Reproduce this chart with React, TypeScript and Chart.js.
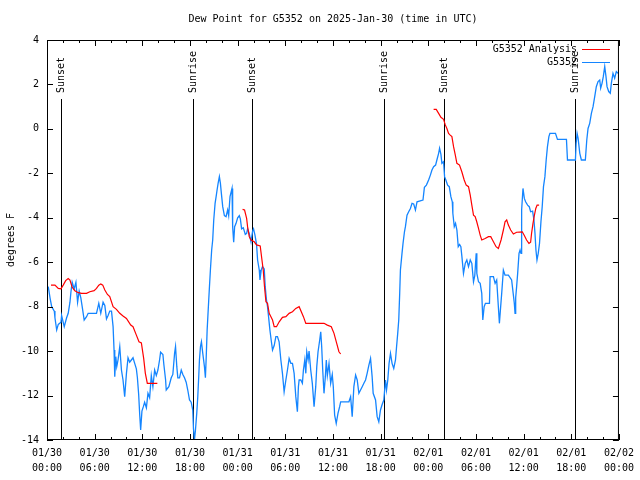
import React, { useEffect, useRef } from "react";
import { Chart, registerables } from "chart.js";

Chart.register(...registerables);

const chartTitle = "Dew Point for G5352 on 2025-Jan-30 (time in UTC)";
const yTitle = "degrees F";

// x tick labels (every 6 hours from 01/30 00:00 UTC)
const xDates = ["01/30", "01/30", "01/30", "01/30", "01/31", "01/31", "01/31", "01/31", "02/01", "02/01", "02/01", "02/01", "02/02"];
const xTimes = ["00:00", "06:00", "12:00", "18:00", "00:00", "06:00", "12:00", "18:00", "00:00", "06:00", "12:00", "18:00", "00:00"];

// sunrise / sunset events (hours since 01/30 00:00)
const eventHours = [1.76, 18.44, 25.84, 42.4, 49.92, 66.48];
const eventLabels = ["Sunset", "Sunrise", "Sunset", "Sunrise", "Sunset", "Sunrise"];

// G5352 station observations (hours, deg F)
const stationHours = [
  0.16, 0.38, 0.59, 0.92, 1.0, 1.22, 1.42, 1.76, 1.84, 2.17, 2.47, 2.67, 2.89, 3.01, 3.17, 3.42, 3.64, 3.85, 4.05, 4.26,
  4.43, 4.68, 4.98, 5.18, 6.23, 6.52, 6.77, 7.06, 7.28, 7.49, 7.69, 7.9, 8.12, 8.32, 8.44, 8.53, 8.66, 8.78, 8.94, 9.16,
  9.37, 9.57, 9.78, 10.0, 10.2, 10.41, 10.62, 10.83, 11.04, 11.25, 11.38, 11.54, 11.67, 11.79, 11.95, 12.13, 12.29, 12.51, 12.71, 12.92,
  13.13, 13.33, 13.55, 13.76, 13.96, 14.17, 14.3, 14.59, 14.71, 14.93, 15.01, 15.34, 15.64, 15.84, 16.06, 16.18, 16.34, 16.47, 16.68, 16.9,
  17.1, 17.31, 17.52, 17.72, 17.94, 18.15, 18.35, 18.44, 18.56, 18.69, 18.85, 18.98, 19.1, 19.19, 19.32, 19.44, 19.61, 19.82, 19.94, 20.03,
  20.16, 20.36, 20.45, 20.57, 20.73, 20.86, 20.99, 21.16, 21.29, 21.41, 21.54, 21.7, 21.83, 21.95, 22.12, 22.33, 22.54, 22.74, 22.87, 23.04,
  23.29, 23.37, 23.5, 23.62, 23.8, 24.0, 24.21, 24.34, 24.5, 24.71, 24.84, 24.96, 25.13, 25.25, 25.46, 25.68, 25.88, 26.0, 26.18, 26.38,
  26.51, 26.72, 26.81, 26.97, 27.13, 27.35, 27.47, 27.63, 27.76, 27.89, 28.06, 28.22, 28.39, 28.6, 28.81, 29.01, 29.22, 29.44, 29.64, 29.85,
  30.07, 30.27, 30.48, 30.7, 30.9, 31.11, 31.32, 31.52, 31.65, 31.74, 31.95, 32.15, 32.28, 32.45, 32.58, 32.7, 32.87, 32.99, 33.2, 33.4,
  33.62, 33.83, 33.96, 34.12, 34.33, 34.46, 34.58, 34.71, 34.87, 35.04, 35.16, 35.29, 35.5, 35.71, 35.91, 36.04, 36.21, 36.41, 36.63, 36.84,
  36.97, 38.01, 38.22, 38.42, 38.63, 38.85, 39.05, 39.26, 39.47, 39.68, 39.89, 40.1, 40.3, 40.52, 40.73, 40.93, 41.06, 41.36, 41.56, 41.77,
  41.98, 42.19, 42.4, 42.61, 42.74, 42.9, 43.06, 43.24, 43.44, 43.65, 43.87, 43.99, 44.15, 44.28, 44.4, 44.49, 44.69, 44.82, 45.0, 45.12,
  45.32, 45.53, 45.75, 45.95, 46.16, 46.38, 46.58, 47.33, 47.51, 47.76, 48.04, 48.26, 48.46, 48.67, 48.92, 49.08, 49.3, 49.42, 49.59, 49.71,
  49.92, 50.05, 50.21, 50.43, 50.64, 50.84, 51.02, 51.09, 51.27, 51.43, 51.6, 51.77, 51.94, 52.1, 52.23, 52.43, 52.65, 52.85, 53.06, 53.28,
  53.48, 53.69, 53.85, 54.03, 54.11, 54.32, 54.53, 54.73, 54.86, 55.03, 55.19, 55.7, 55.78, 56.2, 56.41, 56.61, 56.82, 56.95, 57.11, 57.24,
  57.45, 57.66, 58.08, 58.49, 58.83, 58.92, 59.0, 59.12, 59.25, 59.42, 59.55, 59.67, 59.75, 59.92, 60.09, 60.25, 60.5, 60.71, 60.88, 61.13,
  61.3, 61.43, 61.55, 61.68, 61.84, 62.0, 62.18, 62.34, 62.5, 62.68, 62.84, 63.0, 63.18, 63.31, 64.01, 64.26, 65.39, 65.52, 66.52, 66.61,
  66.73, 66.86, 67.07, 67.27, 67.77, 67.95, 68.11, 68.32, 68.53, 68.74, 68.95, 69.15, 69.37, 69.58, 69.7, 69.87, 70.03, 70.21, 70.37, 70.5,
  70.71, 70.91, 71.04, 71.25, 71.46, 71.67, 71.88,
];
const stationValues = [
  -7.1, -7.6, -8.0, -8.2, -8.5, -9.05, -8.8, -8.7, -8.4, -8.9, -8.5, -8.3, -7.8, -7.35, -6.9, -7.2, -6.9, -7.8, -7.3, -7.6,
  -8.0, -8.6, -8.45, -8.3, -8.3, -7.85, -8.3, -7.8, -7.95, -8.55, -8.4, -8.2, -8.2, -8.9, -9.95, -11.15, -10.25, -10.7, -10.4, -9.8,
  -10.85, -11.3, -12.05, -11.0, -10.3, -10.5, -10.4, -10.3, -10.55, -10.8, -11.2, -11.95, -12.85, -13.55, -12.7, -12.5, -12.3, -12.55, -11.9, -12.1,
  -11.1, -11.6, -10.85, -11.1, -10.85, -10.4, -10.05, -10.15, -10.6, -11.3, -11.75, -11.6, -11.2, -11.05, -10.1, -9.8, -10.7, -11.2, -11.2, -10.85,
  -11.05, -11.2, -11.4, -11.75, -12.2, -12.3, -12.65, -13.5, -14.0, -13.55, -12.8, -12.05, -11.15, -10.4, -9.8, -9.58, -10.1, -10.7, -11.2, -10.4,
  -9.05, -7.7, -7.1, -6.35, -5.45, -5.0, -4.1, -3.35, -3.05, -2.75, -2.45, -2.15, -2.45, -2.9, -3.5, -3.9, -3.95, -3.65, -3.9, -3.05,
  -2.68, -4.4, -5.1, -4.4, -4.25, -4.0, -3.9, -4.05, -4.5, -4.45, -4.6, -4.75, -4.7, -4.5, -4.7, -5.08, -4.6, -4.5, -4.78, -5.2,
  -5.9, -6.35, -6.8, -6.35, -6.2, -6.3, -7.1, -7.7, -8.0, -8.45, -9.05, -9.5, -9.95, -9.75, -9.35, -9.35, -9.58, -10.4, -11.0, -11.83,
  -11.3, -10.85, -10.33, -10.55, -10.55, -11.0, -12.05, -12.73, -11.6, -11.3, -11.3, -11.45, -10.85, -10.4, -11.0, -10.03, -10.4, -10.0, -10.85, -11.45,
  -12.5, -11.6, -10.7, -10.03, -9.5, -9.13, -9.8, -10.85, -11.9, -11.15, -10.4, -11.1, -10.55, -11.45, -11.05, -11.6, -12.88, -13.25, -12.8, -12.5,
  -12.28, -12.28, -12.05, -12.95, -11.6, -11.08, -11.3, -11.9, -11.75, -11.6, -11.45, -11.3, -11.0, -10.63, -10.33, -11.15, -11.9, -12.2, -12.95, -13.18,
  -12.65, -12.4, -12.2, -11.3, -11.75, -11.3, -10.55, -10.1, -10.55, -10.78, -10.4, -9.87, -9.2, -8.6, -7.4, -6.35, -5.6, -5.15, -4.63, -4.4,
  -3.88, -3.73, -3.58, -3.35, -3.38, -3.65, -3.28, -3.2, -2.63, -2.53, -2.3, -2.08, -1.85, -1.7, -1.63, -1.4, -1.1, -0.87, -1.15, -1.55,
  -1.48, -2.15, -2.3, -2.53, -2.6, -3.05, -3.28, -3.8, -4.4, -4.25, -4.55, -5.3, -5.2, -5.3, -5.75, -6.5, -6.05, -5.9, -6.2, -5.9,
  -6.05, -6.88, -6.6, -5.6, -6.5, -6.88, -6.95, -7.4, -8.6, -8.0, -7.85, -7.85, -6.65, -6.65, -6.95, -6.8, -8.0, -8.75, -8.0, -7.4,
  -6.35, -6.58, -6.58, -6.8, -7.85, -8.3, -7.6, -7.1, -6.5, -5.6, -5.45, -5.6, -3.65, -2.68, -3.13, -3.28, -3.43, -3.5, -3.73, -3.7,
  -4.1, -4.7, -5.45, -5.9, -5.6, -5.15, -4.18, -3.5, -2.6, -2.15, -1.4, -0.8, -0.35, -0.2, -0.2, -0.47, -0.47, -1.4, -1.4, -0.65,
  -0.2, -0.43, -1.1, -1.4, -1.4, -0.5, 0.02, 0.25, 0.7, 1.0, 1.45, 1.9, 2.13, 2.2, 1.83, 2.05, 2.35, 2.8, 2.35, 1.9,
  1.68, 1.6, 2.05, 2.5, 2.28, 2.58, 2.5,
];

// G5352 Analysis (three separate runs, hours, deg F)
const analysisHours1 = [0.5, 1.0, 1.42, 1.76, 2.04, 2.35, 2.67, 2.89, 3.17, 3.51, 3.93, 4.35, 4.98, 5.39, 5.93, 6.23, 6.52, 6.77, 7.02, 7.28, 7.61, 7.9, 8.32, 8.74, 9.16, 9.57, 10.0, 10.54, 10.83, 11.25, 11.58, 11.88, 12.17, 12.38, 12.63, 13.89];
const analysisValues1 = [-7.03, -7.03, -7.18, -7.2, -7.03, -6.83, -6.73, -6.8, -7.13, -7.28, -7.37, -7.4, -7.4, -7.33, -7.28, -7.18, -7.03, -6.98, -7.03, -7.25, -7.45, -7.55, -8.0, -8.12, -8.3, -8.42, -8.53, -8.83, -8.9, -9.28, -9.58, -9.63, -10.33, -11.0, -11.45, -11.45];
const analysisHours2 = [24.62, 24.87, 25.13, 25.25, 25.46, 25.68, 26.09, 26.38, 26.84, 27.06, 27.22, 27.38, 27.56, 27.76, 27.97, 28.19, 28.39, 28.6, 28.89, 29.23, 29.64, 30.07, 30.48, 30.9, 31.32, 31.74, 32.28, 32.58, 33.2, 34.87, 35.29, 35.79, 36.13, 36.47, 36.75, 36.97];
const analysisValues2 = [-3.62, -3.65, -4.03, -4.4, -4.85, -5.0, -5.08, -5.22, -5.27, -5.9, -6.35, -7.1, -7.78, -7.85, -8.3, -8.45, -8.6, -8.9, -8.9, -8.68, -8.48, -8.45, -8.3, -8.23, -8.08, -8.0, -8.45, -8.75, -8.75, -8.75, -8.83, -8.9, -9.2, -9.65, -10.03, -10.13];
const analysisHours3 = [48.67, 49.0, 49.3, 49.59, 49.92, 50.14, 50.34, 50.55, 50.76, 50.97, 51.18, 51.4, 51.6, 51.93, 52.22, 52.52, 52.77, 53.06, 53.28, 53.48, 53.69, 53.9, 54.1, 54.32, 54.53, 54.73, 55.15, 55.57, 55.86, 56.2, 56.53, 56.82, 57.16, 57.45, 57.66, 57.87, 58.08, 58.37, 58.71, 59.12, 59.83, 60.09, 60.37, 60.67, 60.88, 61.0, 61.18, 61.36, 61.53, 61.7, 61.95];
const analysisValues3 = [0.88, 0.88, 0.7, 0.52, 0.43, 0.18, 0.02, -0.2, -0.28, -0.35, -0.8, -1.18, -1.55, -1.63, -1.93, -2.3, -2.53, -2.6, -2.98, -3.43, -3.88, -3.95, -4.18, -4.48, -4.78, -5.0, -4.93, -4.85, -4.85, -5.08, -5.3, -5.38, -5.0, -4.55, -4.18, -4.1, -4.33, -4.55, -4.73, -4.65, -4.63, -4.8, -5.0, -5.15, -5.1, -4.7, -4.25, -3.88, -3.58, -3.43, -3.43];

const RED = "#ff0000";
const BLUE = "#1485ff";
const FONT = "DejaVu Sans Mono";

function pairs(xs: number[], ys: number[]) {
  return xs.map((x, i) => ({ x, y: ys[i] as number | null }));
}

const overlayPlugin = {
  id: "gnuplotOverlay",
  beforeDatasetsDraw(chart: any) {
    const { ctx, chartArea: a, scales } = chart;
    const xs = scales.x;
    ctx.save();
    // sunrise / sunset lines
    ctx.strokeStyle = "#000";
    ctx.lineWidth = 1;
    ctx.font = `10px ${FONT}`;
    ctx.fillStyle = "#000";
    eventHours.forEach((h, i) => {
      const px = Math.round(xs.getPixelForValue(h)) + 0.5;
      ctx.beginPath();
      ctx.moveTo(px, 99);
      ctx.lineTo(px, a.bottom);
      ctx.stroke();
      ctx.save();
      ctx.translate(px, 93);
      ctx.rotate(-Math.PI / 2);
      ctx.textAlign = "left";
      ctx.textBaseline = "middle";
      ctx.fillText(eventLabels[i], 0, 0);
      ctx.restore();
    });
    ctx.restore();
  },
  afterDraw(chart: any) {
    const { ctx, chartArea: a, scales } = chart;
    const xs = scales.x;
    const ys = scales.y;
    ctx.save();
    ctx.strokeStyle = "#000";
    ctx.lineWidth = 1;
    // frame
    ctx.strokeRect(a.left + 0.5, a.top + 0.5, a.right - a.left - 1, a.bottom - a.top - 1);
    // x ticks
    for (let h = 0; h <= 72; h += 2) {
      const px = Math.round(xs.getPixelForValue(h)) + 0.5;
      const len = h % 6 === 0 ? 6 : 3;
      ctx.beginPath();
      ctx.moveTo(px, a.bottom);
      ctx.lineTo(px, a.bottom - len);
      ctx.moveTo(px, a.top);
      ctx.lineTo(px, a.top + len);
      ctx.stroke();
    }
    // y ticks
    for (let v = -14; v <= 4; v += 2) {
      const py = Math.round(ys.getPixelForValue(v)) + 0.5;
      ctx.beginPath();
      ctx.moveTo(a.left, py);
      ctx.lineTo(a.left + 6, py);
      ctx.moveTo(a.right, py);
      ctx.lineTo(a.right - 6, py);
      ctx.stroke();
    }
    // title
    ctx.fillStyle = "#000";
    ctx.font = `10px ${FONT}`;
    ctx.textAlign = "center";
    ctx.textBaseline = "middle";
    ctx.fillText(chartTitle, (a.left + a.right) / 2, 19);
    // y title
    ctx.save();
    ctx.translate(11, (a.top + a.bottom) / 2);
    ctx.rotate(-Math.PI / 2);
    ctx.fillText(yTitle, 0, 0);
    ctx.restore();
    // legend
    chart.data.datasets.forEach((ds: any, i: number) => {
      const y = 49 + i * 13;
      ctx.textAlign = "right";
      ctx.fillStyle = "#000";
      ctx.fillText(ds.label, 577, y);
      ctx.strokeStyle = ds.borderColor;
      ctx.lineWidth = 1;
      ctx.beginPath();
      ctx.moveTo(582, y + 0.5);
      ctx.lineTo(610, y + 0.5);
      ctx.stroke();
    });
    ctx.restore();
  },
};

export default function App() {
  const ref = useRef<HTMLCanvasElement | null>(null);
  useEffect(() => {
    document.body.style.margin = "0";
    const canvas = ref.current;
    if (!canvas) return;
    const analysis = [
      ...pairs(analysisHours1, analysisValues1),
      { x: 14.0, y: null },
      ...pairs(analysisHours2, analysisValues2),
      { x: 37.0, y: null },
      ...pairs(analysisHours3, analysisValues3),
    ];
    const chart = new Chart(canvas, {
      type: "line",
      data: {
        datasets: [
          {
            label: "G5352 Analysis",
            data: analysis,
            borderColor: RED,
            borderWidth: 1.2,
            pointRadius: 0,
            tension: 0,
            spanGaps: false,
          },
          {
            label: "G5352",
            data: pairs(stationHours, stationValues),
            borderColor: BLUE,
            borderWidth: 1.3,
            pointRadius: 0,
            tension: 0,
          },
        ],
      },
      options: {
        animation: false,
        responsive: false,
        devicePixelRatio: 1,
        layout: { padding: { top: 40, right: 19, left: 0, bottom: 0 } },
        plugins: { legend: { display: false }, tooltip: { enabled: false }, title: { display: false } },
        font: { family: FONT, size: 10 },
        scales: {
          x: {
            type: "linear",
            min: 0,
            max: 72,
            grid: { display: false, drawTicks: false },
            border: { display: false },
            afterFit: (s: any) => {
              s.height = 40;
            },
            ticks: {
              stepSize: 6,
              autoSkip: false,
              maxRotation: 0,
              padding: 6,
              color: "#000",
              font: { family: FONT, size: 10, lineHeight: 1.5 },
              callback: (v: any) => {
                const i = Math.round(Number(v) / 6);
                return [xDates[i], xTimes[i]];
              },
            },
          },
          y: {
            type: "linear",
            min: -14,
            max: 4,
            grid: { display: false, drawTicks: false },
            border: { display: false },
            afterFit: (s: any) => {
              s.width = 47;
            },
            ticks: {
              stepSize: 2,
              padding: 8,
              color: "#000",
              font: { family: FONT, size: 10 },
            },
          },
        },
      } as any,
      plugins: [overlayPlugin],
    });
    return () => chart.destroy();
  }, []);
  return (
    <div style={{ width: 640, height: 480 }}>
      <canvas ref={ref} width={640} height={480} style={{ display: "block" }} />
    </div>
  );
}
